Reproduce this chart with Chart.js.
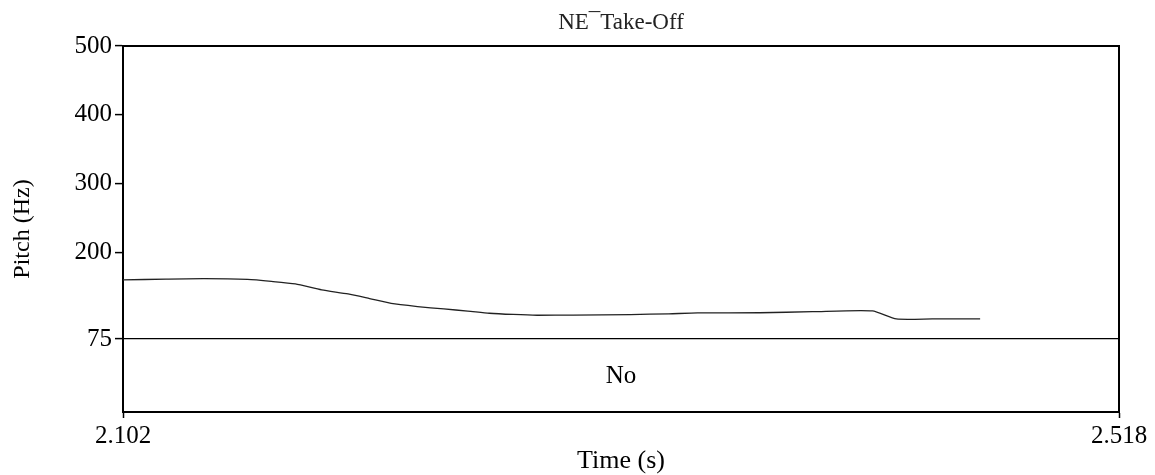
<!DOCTYPE html>
<html>
<head>
<meta charset="utf-8">
<script src="https://cdn.jsdelivr.net/npm/chart.js@4/dist/chart.umd.min.js"></script>
<style>
  html, body { margin: 0; padding: 0; background: #fff; }
  #wrap { width: 1155px; height: 475px; }
</style>
</head>
<body>
<div id="wrap"><canvas id="pitchChart"></canvas></div>
<script>
// pitch track
const times = [2.102, 2.120, 2.136, 2.154, 2.164, 2.174, 2.185, 2.196, 2.205, 2.214, 2.225, 2.236,
  2.246, 2.255, 2.265, 2.275, 2.290, 2.314, 2.330, 2.342, 2.368, 2.390, 2.415, 2.425, 2.440, 2.460];
const pitch = [160.6, 161.8, 162.5, 161.3, 158.5, 154.8, 146.1, 140.3, 133.5, 126.5, 122.0, 118.5,
  115.5, 112.3, 110.5, 109.4, 109.6, 110.3, 111.5, 112.7, 113.0, 114.5, 115.6, 104.0, 104.0, 104.2];
const yTicks = [75, 200, 300, 400, 500];
const xTicks = [2.102, 2.518];
const floorHz = 75;
const tierLabel = "No";

const serif = "'Liberation Serif', 'DejaVu Serif', serif";

const tierPlugin = {
  id: "tier",
  afterDraw(chart) {
    const { ctx, chartArea: a, scales } = chart;
    ctx.save();
    ctx.strokeStyle = "#000";
    ctx.lineWidth = 2;
    ctx.beginPath();
    ctx.moveTo(a.left, a.top);
    ctx.lineTo(a.right, a.top);
    ctx.lineTo(a.right, a.bottom);
    ctx.stroke();
    const yLine = scales.y.getPixelForValue(floorHz);
    ctx.fillStyle = "#000";
    ctx.font = "25px " + serif;
    ctx.textAlign = "center";
    ctx.textBaseline = "middle";
    ctx.fillText(tierLabel, (a.left + a.right) / 2, (yLine + a.bottom) / 2 + 1);
    ctx.restore();
  }
};

new Chart(document.getElementById("pitchChart"), {
  type: "line",
  data: {
    datasets: [{
      label: "Pitch",
      data: times.map((t, i) => ({ x: t, y: pitch[i] })),
      borderColor: "#222",
      borderWidth: 1.3,
      pointRadius: 0,
      tension: 0.2,
      fill: false
    }]
  },
  options: {
    responsive: true,
    maintainAspectRatio: false,
    animation: false,
    layout: { padding: { left: 0, right: 36, top: 0, bottom: 0 } },
    plugins: {
      legend: { display: false },
      tooltip: { enabled: false },
      title: {
        display: true,
        fullSize: false,
        text: "NE\u00AFTake-Off",
        color: "#222",
        font: { family: serif, size: 23, weight: "normal" },
        padding: { top: 9, bottom: 9.4 }
      }
    },
    scales: {
      x: {
        type: "linear",
        min: xTicks[0],
        max: xTicks[xTicks.length - 1],
        afterBuildTicks: s => { s.ticks = xTicks.map(v => ({ value: v })); },
        afterFit: s => { s.height = 63; },
        border: { display: true, color: "#000", width: 2 },
        grid: { display: true, drawOnChartArea: false, tickLength: 6, tickColor: "#000", tickWidth: 1.5 },
        ticks: {
          autoSkip: false,
          maxRotation: 0,
          padding: 3,
          color: "#000",
          font: { family: serif, size: 25 },
          callback: v => v.toFixed(3)
        },
        title: {
          display: true,
          text: "Time (s)",
          color: "#000",
          font: { family: serif, size: 26 },
          padding: { top: 0, bottom: -2 }
        }
      },
      y: {
        min: -31,
        max: 500,
        afterBuildTicks: s => { s.ticks = yTicks.map(v => ({ value: v })); },
        afterFit: s => { s.width = 123; },
        border: { display: true, color: "#000", width: 2 },
        grid: {
          display: true,
          drawOnChartArea: true,
          tickLength: 8,
          tickColor: "#000",
          tickWidth: 1.5,
          lineWidth: 1.2,
          color: ctx => (ctx.tick && ctx.tick.value === floorHz) ? "#000" : "rgba(0,0,0,0)"
        },
        ticks: {
          autoSkip: false,
          padding: 3,
          color: "#000",
          font: { family: serif, size: 25 },
          callback: v => String(v)
        },
        title: {
          display: true,
          text: "Pitch (Hz)",
          color: "#000",
          font: { family: serif, size: 24 },
          padding: { top: 8, bottom: 0 }
        }
      }
    }
  },
  plugins: [tierPlugin]
});
</script>
</body>
</html>
